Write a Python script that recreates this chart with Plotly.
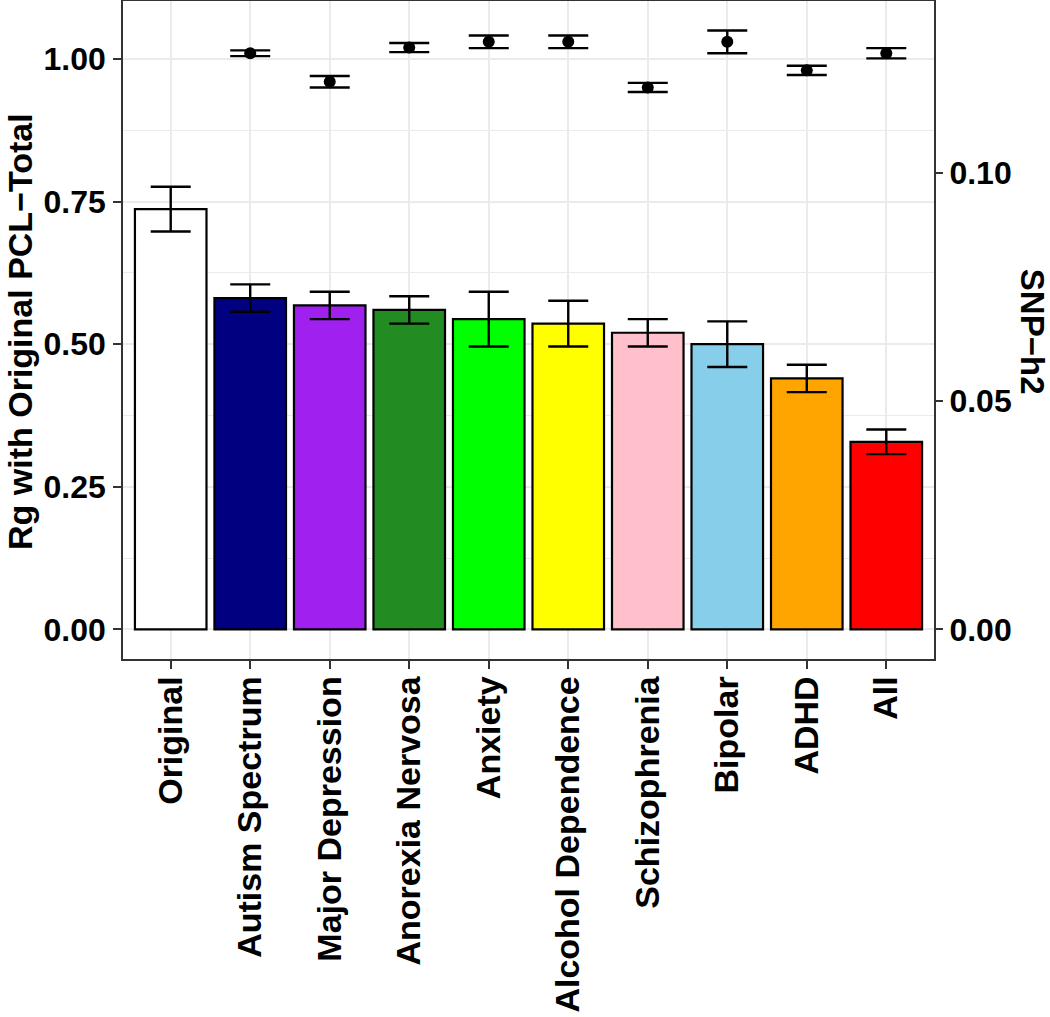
import plotly.graph_objects as go

# categories along x
categories = ["Original", "Autism Spectrum", "Major Depression", "Anorexia Nervosa",
              "Anxiety", "Alcohol Dependence", "Schizophrenia", "Bipolar", "ADHD", "All"]

# SNP-h2 (bars, right axis)
snp_h2 = [0.0921, 0.0726, 0.0710, 0.0700, 0.0680, 0.0670, 0.0650, 0.0625, 0.0550, 0.0411]
snp_h2_se = [0.0049, 0.0030, 0.0030, 0.0030, 0.0060, 0.0050, 0.0030, 0.0050, 0.0030, 0.0027]

# Rg with original PCL-Total (points, left axis)
rg = [None, 1.01, 0.96, 1.02, 1.03, 1.03, 0.95, 1.03, 0.98, 1.01]
rg_se = [0, 0.005, 0.010, 0.008, 0.011, 0.011, 0.008, 0.020, 0.008, 0.009]

bar_colors = ["#FFFFFF", "#000080", "#A020F0", "#228B22", "#00FF00",
              "#FFFF00", "#FFC0CB", "#87CEEB", "#FFA500", "#FF0000"]

FONT = "Liberation Sans"
left_range = [-0.0519, 1.1016]
scale = 8  # sec axis = primary / 8

fig = go.Figure()

fig.add_trace(go.Bar(
    x=categories, y=snp_h2, yaxis="y2", width=0.9,
    marker=dict(color=bar_colors, line=dict(color="black", width=2.2)),
    error_y=dict(type="data", array=snp_h2_se, color="black", thickness=2.4, width=20),
    showlegend=False,
))

fig.add_trace(go.Scatter(
    x=categories, y=rg, mode="markers",
    marker=dict(color="black", size=12),
    error_y=dict(type="data", array=rg_se, color="black", thickness=2.4, width=20),
    showlegend=False,
))

ytickfont = dict(family=FONT, size=32, color="black", weight="bold")
xtickfont = dict(family=FONT, size=34, color="black", weight="bold")

fig.update_layout(
    width=1050, height=1017, autosize=False,
    margin=dict(l=123, r=116, t=1, b=358),
    plot_bgcolor="white", paper_bgcolor="white",
    font=dict(family=FONT, color="black"),
    xaxis=dict(
        type="category", range=[-0.6, 9.6], tickangle=-90,
        tickfont=xtickfont, ticks="outside", ticklen=8, tickwidth=2, tickcolor="#333333",
        ticklabelstandoff=-6,
        showgrid=True, gridcolor="#EBEBEB", gridwidth=2,
        showline=True, mirror=True, linecolor="#333333", linewidth=1.5,
        automargin=False,
    ),
    yaxis=dict(
        range=left_range, tickvals=[0, 0.25, 0.5, 0.75, 1.0], tickformat=".2f",
        tickfont=ytickfont, ticks="outside", ticklen=8, tickwidth=2, tickcolor="#333333",
        ticklabelstandoff=1,
        showgrid=True, gridcolor="#EBEBEB", gridwidth=2, zeroline=False,
        minor=dict(tick0=0.125, dtick=0.25, showgrid=True, gridcolor="#EBEBEB", gridwidth=1.2, ticks=""),
        showline=True, mirror=True, linecolor="#333333", linewidth=1.5,
        automargin=False,
    ),
    yaxis2=dict(
        overlaying="y", side="right",
        range=[left_range[0] / scale, left_range[1] / scale],
        tickvals=[0, 0.05, 0.10], tickformat=".2f",
        tickfont=ytickfont, ticks="outside", ticklen=8, tickwidth=2, tickcolor="#333333",
        showgrid=False, zeroline=False, showline=False,
        automargin=False,
    ),
    annotations=[
        dict(text="Rg with Original PCL\u2212Total", xref="paper", yref="paper",
             x=-0.127, y=0.497, xanchor="center", yanchor="middle", textangle=-90,
             showarrow=False, font=dict(family=FONT, size=34, color="black", weight="bold")),
        dict(text="SNP\u2212h2", xref="paper", yref="paper",
             x=1.121, y=0.497, xanchor="center", yanchor="middle", textangle=90,
             showarrow=False, font=dict(family=FONT, size=33, color="black", weight="bold")),
    ],
)

fig.write_html("out.html", config={"displayModeBar": False},
               post_script="document.body.style.margin='0';")
